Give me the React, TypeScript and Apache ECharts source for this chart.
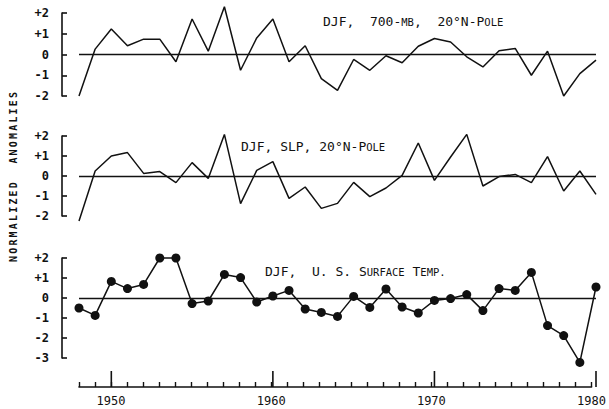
import React, { useEffect, useRef } from "react";
import * as echarts from "echarts";

const years = [1948, 1949, 1950, 1951, 1952, 1953, 1954, 1955, 1956, 1957, 1958, 1959, 1960, 1961, 1962, 1963, 1964, 1965, 1966, 1967, 1968, 1969, 1970, 1971, 1972, 1973, 1974, 1975, 1976, 1977, 1978, 1979, 1980];
const mb700 = [-2.0, 0.26, 1.23, 0.42, 0.74, 0.74, -0.35, 1.71, 0.16, 2.3, -0.76, 0.8, 1.71, -0.35, 0.42, -1.16, -1.73, -0.24, -0.76, -0.06, -0.4, 0.4, 0.77, 0.6, -0.11, -0.6, 0.18, 0.29, -1.0, 0.16, -2.0, -0.92, -0.27];
const slp = [-2.25, 0.25, 1.0, 1.17, 0.13, 0.22, -0.33, 0.67, -0.12, 2.08, -1.38, 0.28, 0.72, -1.12, -0.55, -1.62, -1.37, -0.32, -1.03, -0.6, 0.03, 1.65, -0.22, 0.95, 2.08, -0.5, -0.03, 0.08, -0.33, 0.97, -0.75, 0.25, -0.92];
const usTemp = [-0.5, -0.87, 0.83, 0.47, 0.68, 2.0, 2.0, -0.28, -0.15, 1.18, 1.02, -0.2, 0.1, 0.38, -0.55, -0.72, -0.92, 0.08, -0.47, 0.45, -0.45, -0.75, -0.12, -0.03, 0.17, -0.63, 0.47, 0.38, 1.28, -1.38, -1.88, -3.22, 0.55];
const decades = [1950, 1960, 1970, 1980];
const yRanges = [[-2, 2], [-2, 2], [-3, 2]];
const yLabel = "NORMALIZED  ANOMALIES";

const MONO = "DejaVu Sans Mono";
const INK = "#111";

const PLOT_LEFT = 79;
const PLOT_WIDTH = 517;
const TICK_TOP = 371;
const TICK_H = 16;

export default function App() {
  const ref = useRef<HTMLDivElement>(null);
  useEffect(() => {
    const chart = echarts.init(ref.current!, null, { renderer: "svg" });
    const grids = [
      { left: PLOT_LEFT, width: PLOT_WIDTH, top: 13, height: 83 },
      { left: PLOT_LEFT, width: PLOT_WIDTH, top: 136, height: 80 },
      { left: PLOT_LEFT, width: PLOT_WIDTH, top: 258, height: 100 },
      { left: PLOT_LEFT, width: PLOT_WIDTH, top: TICK_TOP, height: TICK_H },
    ];
    const panelY = yRanges.map((r, i) => ({
      gridIndex: i,
      type: "value",
      min: r[0],
      max: r[1],
      interval: 1,
      offset: 17,
      axisLine: { show: true, lineStyle: { color: INK, width: 1.6 } },
      axisTick: { show: true, inside: true, length: 5, lineStyle: { color: INK, width: 1.6 } },
      axisLabel: {
        margin: 13,
        fontFamily: MONO,
        fontSize: 12,
        fontWeight: "bold",
        color: INK,
        formatter: (v: number) => (v > 0 ? "+" + v : String(v)),
      },
      splitLine: { show: false },
    }));
    const panelX = [0, 1, 2].map((i) => ({
      gridIndex: i,
      type: "value",
      min: years[0],
      max: years[years.length - 1],
      show: false,
      splitLine: { show: false },
    }));
    const zeroLine = {
      silent: true,
      symbol: ["none", "none"],
      label: { show: false },
      lineStyle: { color: INK, width: 1.4, type: "solid" },
      data: [{ yAxis: 0 }],
    };
    const mk = (vals: number[], i: number, dots: boolean) => ({
      type: "line",
      xAxisIndex: i,
      yAxisIndex: i,
      data: years.map((y, k) => [y, vals[k]]),
      clip: false,
      symbol: dots ? "circle" : "none",
      symbolSize: 9,
      showSymbol: dots,
      itemStyle: { color: INK },
      lineStyle: { color: INK, width: 1.5 },
      markLine: zeroLine,
    });
    const isDecade = (_i: number, v: any) => Number(v) % 10 === 0;
    const labelChars = yLabel.split("");
    const n = labelChars.length;
    const rich = {
      b: { fontFamily: MONO, fontSize: 13, fill: INK, verticalAlign: "bottom", height: 15 },
      s: { fontFamily: MONO, fontSize: 10.5, fill: INK, verticalAlign: "bottom", height: 15 },
    };
    const baseGraphic: any[] = [
      {
        type: "text",
        left: 323,
        top: 15,
        style: { text: "{b|DJF,  700-}{s|MB}{b|,  20°N-P}{s|OLE}", rich },
      },
      {
        type: "text",
        left: 241,
        top: 140,
        style: { text: "{b|DJF, SLP, 20°N-P}{s|OLE}", rich },
      },
      {
        type: "text",
        left: 265,
        top: 265,
        style: { text: "{b|DJF,  U. S. S}{s|URFACE}{b| T}{s|EMP.}", rich },
      },
      {
        type: "group",
        x: 13,
        y: 177,
        rotation: Math.PI / 2,
        children: labelChars.map((c, i) => ({
          type: "text",
          x: (i - (n - 1) / 2) * 8.2,
          y: 0,
          style: {
            text: c,
            fontFamily: MONO,
            fontSize: 10,
            fontWeight: "bold",
            fill: INK,
            align: "center",
            verticalAlign: "middle",
          },
        })),
      },
    ];
    const option: any = {
      animation: false,
      backgroundColor: "#fff",
      grid: grids,
      xAxis: [
        ...panelX,
        {
          gridIndex: 3,
          type: "value",
          position: "bottom",
          min: years[0],
          max: years[years.length - 1],
          interval: 1,
          axisLine: { show: true, lineStyle: { color: INK, width: 1.6 } },
          axisTick: { show: true, inside: true, length: 5, lineStyle: { color: INK, width: 1.4 } },
          axisLabel: { show: false },
          splitLine: { show: false },
        },
        {
          gridIndex: 3,
          type: "category",
          position: "bottom",
          boundaryGap: false,
          data: years.map(String),
          axisLine: { show: false },
          axisTick: { show: false },
          axisLabel: {
            show: true,
            interval: isDecade,
            margin: 8,
            fontFamily: MONO,
            fontSize: 12,
            color: INK,
          },
          splitLine: { show: false },
        },
      ],
      yAxis: [
        ...panelY,
        { gridIndex: 3, type: "value", min: 0, max: 1, show: false },
      ],
      series: [mk(mb700, 0, false), mk(slp, 1, false), mk(usTemp, 2, true)],
      graphic: baseGraphic,
    };
    chart.setOption(option);
    const x0 = years[0];
    const x1 = years[years.length - 1];
    const tickLines = decades.map((d) => {
      let px = Number(chart.convertToPixel({ xAxisIndex: 0 } as any, d));
      if (!isFinite(px)) px = PLOT_LEFT + ((d - x0) / (x1 - x0)) * PLOT_WIDTH;
      return {
        type: "rect",
        silent: true,
        z: 100,
        shape: { x: px - 0.8, y: TICK_TOP, width: 1.6, height: TICK_H },
        style: { fill: INK },
      };
    });
    chart.setOption({ graphic: [...baseGraphic, ...tickLines] });
    return () => chart.dispose();
  }, []);
  return (
    <div
      ref={ref}
      style={{ position: "fixed", left: 0, top: 0, width: 609, height: 409, background: "#fff" }}
    />
  );
}
